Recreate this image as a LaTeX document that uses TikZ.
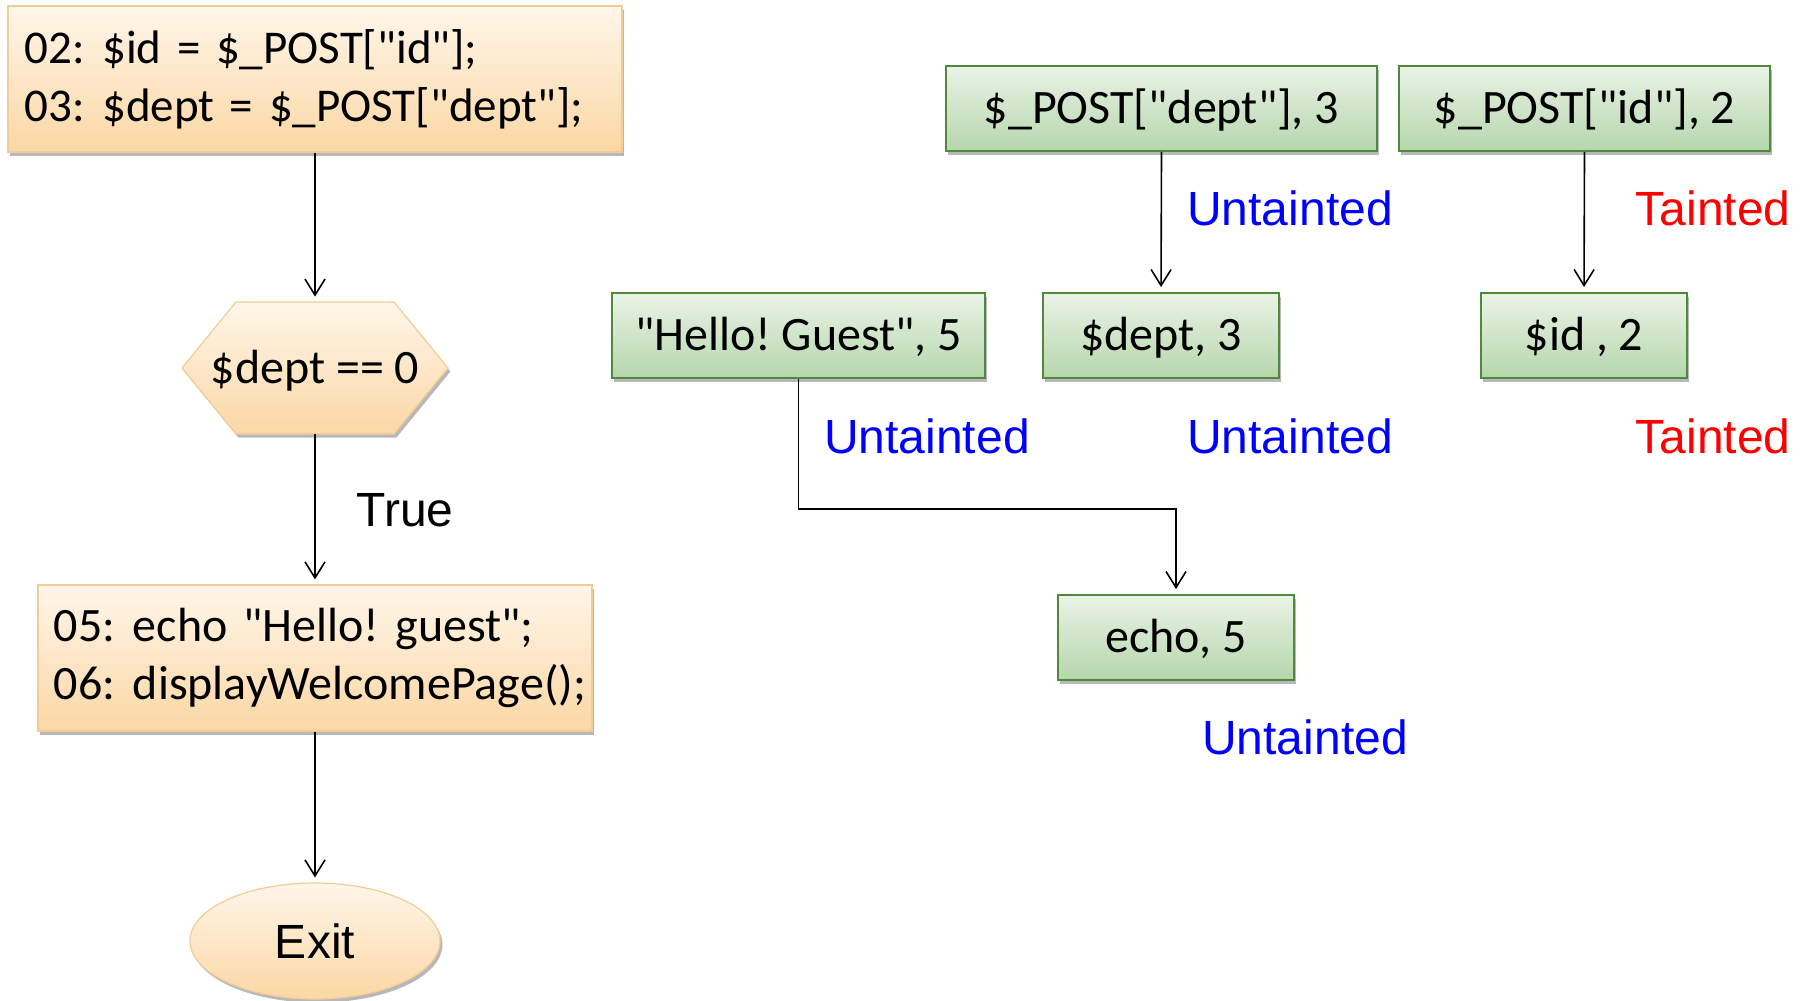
\documentclass[tikz,border=0pt]{standalone}
\usepackage{fontspec}
\setmainfont{Carlito}[Ligatures=TeXOff]
\newfontfamily\arialf{Liberation Sans}
\usetikzlibrary{arrows.meta,shapes.geometric,shadows}
\frenchspacing
\newcommand\codeline[1]{\raisebox{-2.5pt}{#1}}
\newcommand\gap{\hspace{0.36em}}
\definecolor{orTop}{HTML}{FFF6EA}
\definecolor{orBot}{HTML}{FBD7A4}
\definecolor{orLine}{HTML}{F1CC98}
\definecolor{grTop}{HTML}{EAF3E6}
\definecolor{grBot}{HTML}{B5D6AC}
\definecolor{grLine}{HTML}{4F8A3C}
\definecolor{tBlue}{HTML}{0000FF}
\definecolor{tRed}{HTML}{FF0000}
\tikzset{
  shad/.style={drop shadow={shadow xshift=1.2pt,shadow yshift=-1.8pt,fill=black,opacity=0.28}},
  orfill/.style={top color=orTop,bottom color=orBot,draw=orLine,line width=0.6pt,shad},
  codebox/.style={rectangle,orfill,align=left,inner ysep=0pt},
  grbox/.style={rectangle,top color=grTop,bottom color=grBot,draw=grLine,line width=1pt,shad,
    minimum height=42.5pt,inner sep=0pt,text height=20pt,text depth=5pt,
    font=\fontsize{24}{28.5}\selectfont},
  arr/.style={-{Straight Barb[length=8pt,width=10pt]},line width=0.8pt,shorten >=2.5pt},
  lab/.style={font=\arialf\fontsize{24}{28}\selectfont,inner sep=0pt},
  ublue/.style={lab,text=tBlue},
  tred/.style={lab,text=tRed}
}
\begin{document}
\begin{tikzpicture}[x=0.5pt,y=-0.5pt]
\useasboundingbox (0,0) rectangle (1802,1000);

% left flowchart
\node[codebox,minimum width=307pt,minimum height=73pt,text width=290pt,inner xsep=8.5pt,
  font=\fontsize{23.5}{29}\selectfont] (c1) at (315,79)
  {\codeline{02:\gap\$id = \$\_POST["id"];}\\\codeline{03:\gap\$dept = \$\_POST["dept"];}};

\shadedraw[orfill] (182,368) -- (236,302) -- (394,302) -- (448,368) -- (394,434) -- (236,434) -- cycle;
\node[minimum width=133pt,minimum height=66pt,inner sep=0pt,text height=20pt,text depth=5pt,
  font=\fontsize{24}{28.5}\selectfont] (hex) at (315,368) {\$dept == 0};

\node[codebox,minimum width=277pt,minimum height=73pt,text width=261pt,inner xsep=8pt,
  font=\fontsize{24}{29}\selectfont] (c2) at (315,658)
  {\codeline{05:\gap echo "Hello! guest";}\\\codeline{06:\gap displayWelcomePage();}};

\node[ellipse,orfill,minimum width=125pt,minimum height=58pt,inner sep=0pt,font=\arialf\fontsize{24}{28}\selectfont] (ex) at (315,941) {Exit};

\draw[arr] (c1.south) -- (hex.north);
\draw[arr] (hex.south) -- (c2.north);
\draw[arr] (c2.south) -- (ex.north);
\node[lab] (tr) at (405,510) {True};

% right graph
\node[grbox,minimum width=215.5pt] (pd) at (1161.5,108.5) {\$\_POST["dept"], 3};
\node[grbox,minimum width=185.5pt] (pi) at (1584.5,108.5) {\$\_POST["id"], 2};
\node[grbox,minimum width=186.5pt] (hg) at (798.5,335.5) {"Hello! Guest", 5};
\node[grbox,minimum width=118pt] (dd) at (1161,335.5) {\$dept, 3};
\node[grbox,minimum width=103pt] (di) at (1584,335.5) {\$id , 2};
\node[grbox,minimum width=118pt] (ec) at (1176,637.5) {echo, 5};

\coordinate (bend) at (1176,509);
\draw[arr] (pd.south) -- (dd.north);
\draw[arr] (pi.south) -- (di.north);
\draw[arr] (hg.south) |- (bend) -- (ec.north);

\node[ublue] (u1) at (1290,208) {Untainted};
\node[tred] (t1) at (1713,208) {Tainted};
\node[ublue] (u2) at (927,436) {Untainted};
\node[ublue] (u3) at (1290,436) {Untainted};
\node[tred] (t2) at (1713,436) {Tainted};
\node[ublue] (u4) at (1305,737) {Untainted};
\end{tikzpicture}
\end{document}
